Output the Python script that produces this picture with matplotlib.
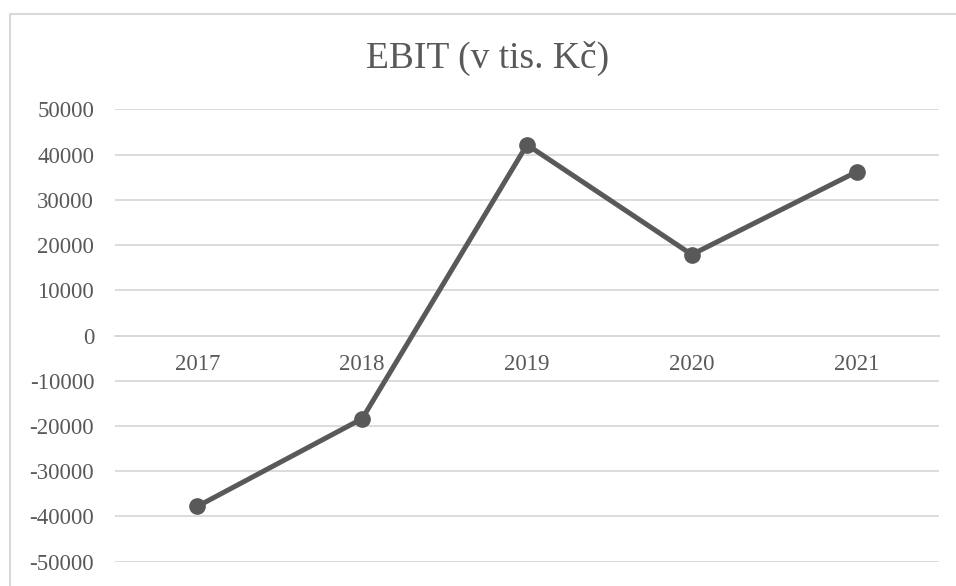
import matplotlib.pyplot as plt
from matplotlib.lines import Line2D

years = ['2017', '2018', '2019', '2020', '2021']
ebit = [-37800, -18400, 42200, 17900, 36200]

plt.rcParams['font.family'] = ['Liberation Serif', 'DejaVu Serif']

W, H = 956, 586
fig = plt.figure(figsize=(W / 100, H / 100), dpi=100)
ax = fig.add_axes([115 / W, (H - 561.5) / H, (939 - 115) / W, (561.5 - 109.5) / H])

grey = '#595959'
grid = '#d9d9d9'

x = range(len(years))
ax.plot(x, ebit, color=grey, lw=3.6, marker='o', markersize=11, solid_capstyle='round', zorder=3)

ax.set_xlim(-0.5, len(years) - 0.5)
ax.set_ylim(-50000, 50000)
ax.set_yticks(range(-50000, 50001, 10000))
ax.set_yticklabels([str(v) for v in range(-50000, 50001, 10000)])
ax.set_xticks(list(x))
ax.set_xticklabels(years)

ax.grid(axis='y', color=grid, lw=1.3)
ax.set_axisbelow(True)
for s in ['top', 'right', 'left']:
    ax.spines[s].set_visible(False)
ax.spines['bottom'].set_position(('data', 0))
ax.spines['bottom'].set_color(grid)
ax.spines['bottom'].set_linewidth(1.3)

ax.tick_params(axis='both', length=0, colors=grey, labelsize=16.5)
ax.tick_params(axis='y', pad=15)
ax.tick_params(axis='x', pad=13)

fig.text(488 / W, 1 - 68 / H, 'EBIT (v tis. Kč)', ha='center', va='baseline',
         fontsize=27, color=grey)

# chart border (only left and top edges fall inside the picture)
bx, by = 9.5 / W, 1 - 13.5 / H
fig.lines.append(Line2D([bx, bx, 1.1], [-0.1, by, by], transform=fig.transFigure,
                        color=grid, lw=1.5))

fig.savefig('out.png', dpi=100)
